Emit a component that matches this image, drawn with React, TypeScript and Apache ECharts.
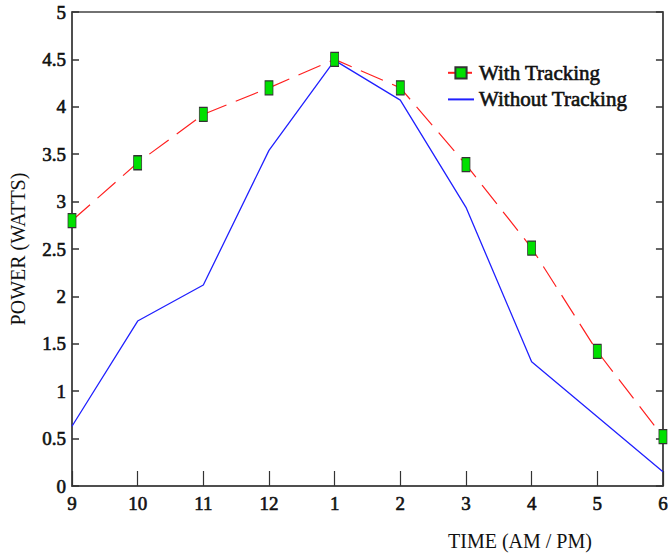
import React, { useEffect, useRef } from "react";
import * as echarts from "echarts";

const categories = ["9", "10", "11", "12", "1", "2", "3", "4", "5", "6"];
const withTracking = [2.8, 3.41, 3.92, 4.2, 4.5, 4.2, 3.39, 2.51, 1.42, 0.52];
const withoutTracking = [0.63, 1.74, 2.12, 3.54, 4.49, 4.07, 2.94, 1.31, 0.73, 0.15];
const seriesNames = ["With Tracking", "Without Tracking"];

const FONT = "Liberation Serif";
const boldish = { fontFamily: FONT, fontWeight: "normal", color: "#111", textBorderColor: "#111", textBorderWidth: 0.6 };

export default function App() {
  const ref = useRef<HTMLDivElement>(null);
  useEffect(() => {
    if (!ref.current) return;
    const chart = echarts.init(ref.current, null, { renderer: "svg" });
    chart.setOption({
      animation: false,
      backgroundColor: "#ffffff",
      textStyle: { fontFamily: FONT },
      grid: {
        left: 69,
        top: 12,
        right: 5,
        bottom: 63,
        show: true,
        borderColor: "#444",
        borderWidth: 1.5,
      },
      legend: {
        left: 442,
        top: 57,
        orient: "vertical",
        itemWidth: 26,
        itemHeight: 14,
        itemGap: 5,
        padding: [5, 5, 5, 5],
        textStyle: { ...boldish, fontSize: 21 },
        data: [
          { name: seriesNames[0] },
          { name: seriesNames[1], itemStyle: { opacity: 0 } },
        ],
      },
      xAxis: {
        type: "category",
        data: categories,
        boundaryGap: false,
        name: "TIME (AM / PM)",
        nameLocation: "middle",
        nameGap: 45,
        nameTextStyle: { fontFamily: FONT, fontSize: 20, color: "#111", padding: [0, 0, 0, 305] },
        axisLine: { lineStyle: { color: "#444", width: 1.5 } },
        axisTick: { inside: true, length: 15, lineStyle: { color: "#333", width: 1.2 } },
        axisLabel: { ...boldish, fontSize: 19, margin: 8 },
        splitLine: { show: false },
      },
      yAxis: [
        {
          type: "value",
          min: 0,
          max: 5,
          interval: 0.5,
          name: "POWER (WATTS)",
          nameLocation: "middle",
          nameGap: 44,
          nameTextStyle: { fontFamily: FONT, fontSize: 20, color: "#111" },
          axisLine: { show: true, lineStyle: { color: "#444", width: 1.5 } },
          axisTick: { show: true, inside: true, length: 7, lineStyle: { color: "#333", width: 1.5 } },
          axisLabel: { ...boldish, fontSize: 19, margin: 6 },
          splitLine: { show: false },
        },
        {
          type: "value",
          min: 0,
          max: 5,
          interval: 0.5,
          position: "right",
          axisLine: { show: true, lineStyle: { color: "#444", width: 1.5 } },
          axisTick: { show: true, inside: true, length: 7, lineStyle: { color: "#333", width: 1.5 } },
          axisLabel: { show: false },
          splitLine: { show: false },
        },
      ],
      series: [
        {
          name: seriesNames[0],
          type: "line",
          data: withTracking,
          symbol: "rect",
          symbolSize: [8, 14],
          lineStyle: { color: "#ff2020", width: 1.2, type: [24, 10] },
          itemStyle: { color: "#00e000", borderColor: "#333", borderWidth: 1 },
          z: 3,
        },
        {
          name: seriesNames[1],
          type: "line",
          data: withoutTracking,
          symbol: "none",
          lineStyle: { color: "#2020ff", width: 1.3 },
          itemStyle: { color: "#2020ff" },
          z: 2,
        },
      ],
    });
    return () => chart.dispose();
  }, []);
  return <div ref={ref} style={{ width: 671, height: 556, position: "absolute", left: 0, top: 0 }} />;
}
